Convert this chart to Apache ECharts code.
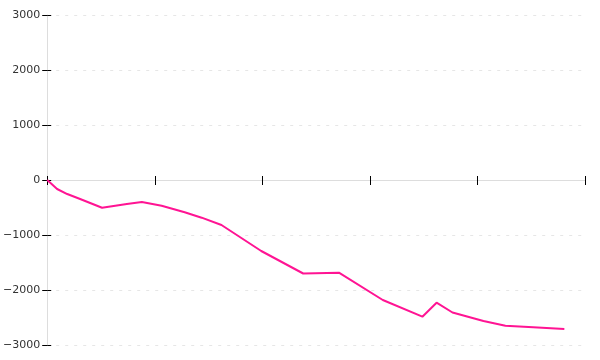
<!DOCTYPE html>
<html>
<head>
<meta charset="utf-8">
<script src="https://cdn.jsdelivr.net/npm/echarts@6/dist/echarts.min.js"></script>
<style>html,body{margin:0;padding:0;background:#fff}#c{width:600px;height:360px}</style>
</head>
<body>
<div id="c"></div>
<script>
var xValues = [0, 0.46, 0.93, 1.53, 2.55, 3.70, 4.40, 5.32, 6.39, 7.18, 8.10, 9.95, 11.90, 13.56, 15.60, 17.44, 18.10, 18.84, 20.28, 21.30, 22.59, 24.04];
var yValues = [0, -164, -255, -345, -504, -436, -400, -467, -587, -685, -818, -1291, -1700, -1685, -2182, -2485, -2231, -2409, -2564, -2649, -2678, -2709];
var yTickLabels = [-3000, -2000, -1000, 0, 1000, 2000, 3000];

var chart = echarts.init(document.getElementById('c'), null, {renderer: 'canvas'});
var data = xValues.map(function (x, i) { return [x, yValues[i]]; });
var fontFamily = 'DejaVu Sans';
var yMin = yTickLabels[0], yMax = yTickLabels[yTickLabels.length - 1];
chart.setOption({
  animation: false,
  grid: {left: 45, right: 15, top: 15, bottom: 15, containLabel: false},
  xAxis: [{
    type: 'value', min: 0, max: 25, interval: 5,
    axisLine: {show: true, onZero: true, lineStyle: {color: '#dddddd', width: 1}},
    axisTick: {show: true, inside: false, length: 5, lineStyle: {color: '#000', width: 1}},
    axisLabel: {show: false},
    splitLine: {show: false}
  }, {
    type: 'value', min: 0, max: 25, interval: 5, position: 'bottom',
    axisLine: {show: true, onZero: true, lineStyle: {color: 'rgba(0,0,0,0)', width: 1}},
    axisTick: {show: true, inside: true, length: 4, lineStyle: {color: '#000', width: 1}},
    axisLabel: {show: false},
    splitLine: {show: false}
  }],
  yAxis: [{
    type: 'value', min: yMin, max: yMax, interval: 1000,
    axisLine: {show: true, lineStyle: {color: '#dddddd', width: 1}},
    axisTick: {show: true, length: 5, lineStyle: {color: '#000', width: 1}},
    axisLabel: {
      color: '#333', fontSize: 11, fontFamily: fontFamily, margin: 7,
      formatter: function (v) { return v < 0 ? '\u2212' + Math.abs(v) : String(v); }
    },
    splitLine: {show: true, lineStyle: {color: '#e6e6e6', type: [3, 6], width: 1}}
  }, {
    type: 'value', min: yMin, max: yMax, interval: 1000, position: 'left',
    axisLine: {show: false},
    axisTick: {show: true, inside: true, length: 4, lineStyle: {color: '#000', width: 1}},
    axisLabel: {show: false},
    splitLine: {show: false}
  }],
  series: [{
    type: 'line', data: data, xAxisIndex: 0, yAxisIndex: 0,
    showSymbol: false, symbol: 'none',
    lineStyle: {color: '#ff1493', width: 2},
    itemStyle: {color: '#ff1493'}
  }]
});
</script>
</body>
</html>
